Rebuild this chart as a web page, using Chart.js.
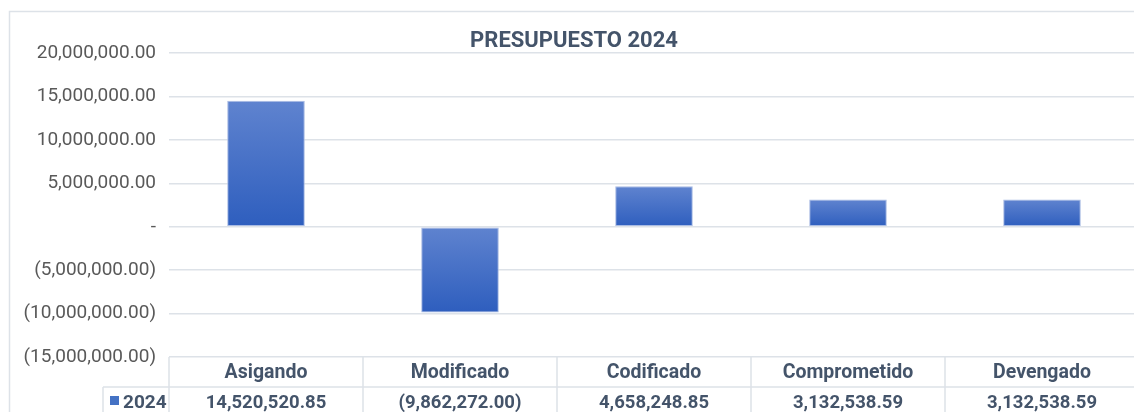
<!DOCTYPE html>
<html><head><meta charset="utf-8">
<script src="https://cdn.jsdelivr.net/npm/chart.js"></script>
<style>html,body{margin:0;padding:0;background:#fff;overflow:hidden;width:1134px;height:412px}#wrap{width:1140px;height:412px;position:relative}</style>
</head><body><div id="wrap"><canvas id="c"></canvas></div>
<script>
const categories = ['Asigando', 'Modificado', 'Codificado', 'Comprometido', 'Devengado'];
const seriesName = '2024';
const values2024 = [14520520.85, -9862272.00, 4658248.85, 3132538.59, 3132538.59];
const yTicks = [20000000, 15000000, 10000000, 5000000, 0, -5000000, -10000000, -15000000];
const chartTitle = 'PRESUPUESTO 2024';

const nf = new Intl.NumberFormat('en-US', {minimumFractionDigits: 2, maximumFractionDigits: 2});
function fmt(v) {
  if (v === 0) return '-';
  return v < 0 ? '(' + nf.format(-v) + ')' : nf.format(v);
}

const GRID = '#dde2e8';
const TXT = '#44546a';

const framePlugin = {
  id: 'frameAndTable',
  beforeDraw(chart) {
    const c = chart.ctx;
    c.save();
    c.strokeStyle = GRID; c.lineWidth = 1.5;
    c.strokeRect(9.5, 11.5, 1300, 600);
    c.restore();
  },
  afterDraw(chart) {
    const {ctx, chartArea, scales: {x}} = chart;
    const n = categories.length;
    const cw = (chartArea.right - chartArea.left) / n;
    const top = chartArea.bottom;
    const r1 = top + 30;
    const r2 = r1 + 30;
    const keyLeft = chartArea.left - 66;
    ctx.save();
    ctx.strokeStyle = GRID; ctx.lineWidth = 1.5;
    ctx.beginPath();
    ctx.moveTo(keyLeft, r1); ctx.lineTo(chartArea.right + 10, r1);
    ctx.moveTo(keyLeft, r2); ctx.lineTo(chartArea.right + 10, r2);
    ctx.moveTo(keyLeft, r1); ctx.lineTo(keyLeft, r2);
    ctx.moveTo(chartArea.left, top); ctx.lineTo(chartArea.left, r2);
    for (let i = 0; i < n; i++) {
      const bx = x.getPixelForValue(i) + cw / 2;
      ctx.moveTo(bx, top); ctx.lineTo(bx, r2);
    }
    ctx.stroke();
    ctx.fillStyle = TXT;
    ctx.textAlign = 'center'; ctx.textBaseline = 'middle';
    ctx.font = 'bold 19.5px Roboto';
    for (let i = 0; i < n; i++) {
      const cx = x.getPixelForValue(i);
      ctx.fillText(categories[i], cx, (top + r1) / 2 + 1);
    }
    ctx.font = 'bold 18.5px Roboto';
    for (let i = 0; i < n; i++) {
      const cx = x.getPixelForValue(i);
      ctx.fillText(fmt(values2024[i]), cx, (r1 + r2) / 2 + 1);
    }
    ctx.fillStyle = '#4472c4';
    ctx.fillRect(keyLeft + 7, r1 + 9, 9, 9);
    ctx.fillStyle = TXT;
    ctx.textAlign = 'left';
    ctx.font = 'bold 19px Roboto';
    ctx.fillText(seriesName, keyLeft + 20, (r1 + r2) / 2 + 1);
    ctx.restore();
  }
};

new Chart(document.getElementById('c'), {
  type: 'bar',
  data: {
    labels: categories,
    datasets: [{
      label: seriesName,
      data: values2024,
      barPercentage: 0.4,
      categoryPercentage: 1.0,
      borderWidth: 1,
      borderColor: '#a9bbe3',
      borderSkipped: false,
      backgroundColor: (ctx) => {
        const chart = ctx.chart;
        const {chartArea, scales} = chart;
        if (!chartArea || !scales.y || ctx.raw === undefined) return '#4472c4';
        const v = ctx.raw;
        const t = scales.y.getPixelForValue(Math.max(v, 0));
        const b = scales.y.getPixelForValue(Math.min(v, 0));
        const g = chart.ctx.createLinearGradient(0, t, 0, b);
        g.addColorStop(0, '#5f83cf');
        g.addColorStop(1, '#2e5ebe');
        return g;
      }
    }]
  },
  options: {
    responsive: true,
    maintainAspectRatio: false,
    animation: false,
    layout: {padding: {left: 9, right: 1, top: 29, bottom: 55}},
    plugins: {
      legend: {display: false},
      tooltip: {enabled: false},
      title: {
        display: true, text: chartTitle, color: TXT,
        font: {family: 'Roboto', size: 22, weight: 'bold', lineHeight: 1.1},
        padding: {top: 0, bottom: 0}
      }
    },
    scales: {
      x: {display: false},
      y: {
        min: -15000000, max: 20000000,
        afterBuildTicks: (s) => { s.ticks = yTicks.map(v => ({value: v})); },
        afterFit: (s) => { s.width = 160; },
        border: {display: false},
        grid: {color: GRID, lineWidth: 1.5, drawTicks: false},
        ticks: {
          padding: 13, color: '#595959',
          font: {family: 'Roboto', size: 19},
          callback: (v) => fmt(v)
        }
      }
    }
  },
  plugins: [framePlugin]
});
</script>
</body></html>
